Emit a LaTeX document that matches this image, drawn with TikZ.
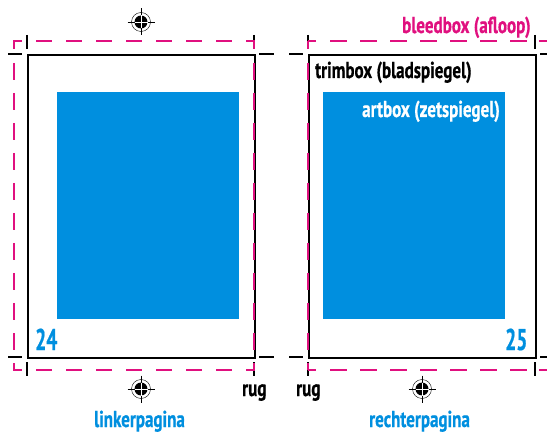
\documentclass[tikz,border=0pt]{standalone}
\usepackage{fontspec}
\setmainfont[FakeStretch=0.74,BoldFont={PT Sans Bold},BoldFeatures={FakeBold=0.6}]{PT Sans}
\definecolor{mag}{HTML}{E0107F}
\definecolor{blu}{HTML}{008FDF}
\tikzset{
  trim/.style={draw=black,line width=1.6pt},
  tick/.style={draw=black,line width=1.6pt},
  bleed/.style={draw=mag,line width=1.6pt},
  lbl/.style={anchor=base west,inner sep=0pt,font=\fontsize{23}{23}\selectfont\bfseries},
  numlbl/.style={lbl,text=blu,font=\fontsize{30}{30}\selectfont\bfseries},
  art/.style={fill=blu,draw=none},
  regthin/.style={draw=black,line width=0.4pt},
}
\newcommand{\regmark}[2]{%
  \fill[black] (#1,#2) circle[radius=6.5];
  \draw[regthin] (#1,#2) circle[radius=9.5];
  \draw[regthin] (#1-13.5,#2) -- (#1-6.5,#2) (#1+6.5,#2) -- (#1+13.5,#2) (#1,#2-13.5) -- (#1,#2-6.5) (#1,#2+6.5) -- (#1,#2+13.5);
  \draw[draw=white,line width=0.5pt] (#1-6.5,#2) -- (#1+6.5,#2) (#1,#2-6.5) -- (#1,#2+6.5);
}
\newcommand{\ticks}[2]{%
  \draw[tick] (#1,35) -- (#1,49) (#1,362) -- (#1,376) (#2,35) -- (#2,49) (#2,362) -- (#2,376);
  \draw[tick] (#1-19,54) -- (#1-5,54) (#1-19,357) -- (#1-5,357) (#2+5,54) -- (#2+20,54) (#2+5,357) -- (#2+20,357);
}
\newcommand{\vdashes}[1]{%
  \foreach \y in {63,93,...,333} {\draw[bleed] (#1,\y) -- (#1,\y+17);}
}
\begin{document}
\begin{tikzpicture}[x=1pt,y=-1pt]
\useasboundingbox (0,0) rectangle (547,433);
% left page
\node[art,minimum width=182pt,minimum height=227pt,inner sep=0pt,anchor=north west] (artL) at (57,92) {};
\node[trim,minimum width=227pt,minimum height=303pt,inner sep=0pt,anchor=north west] (trimL) at (27,54) {};
\ticks{27}{254}
\draw[bleed] (14,49) -- (14,41) -- (22,41) (14,363) -- (14,370) -- (22,370);
\vdashes{14}
\vdashes{254}
\foreach \x in {36,66,...,216} {\draw[bleed] (\x,41) -- (\x+16,41); \draw[bleed] (\x,370) -- (\x+16,370);}
\draw[bleed] (246,41) -- (254,41) -- (254,49) (246,370) -- (254,370) -- (254,363);
% right page
\node[art,minimum width=182pt,minimum height=227pt,inner sep=0pt,anchor=north west] (artR) at (323,92) {};
\node[trim,minimum width=227pt,minimum height=303pt,inner sep=0pt,anchor=north west] (trimR) at (308,54) {};
\ticks{308}{535}
\vdashes{308}
\draw[bleed] (308,41) -- (316,41) (308,41) -- (308,49) (308,370) -- (316,370) (308,370) -- (308,363);
\foreach \x in {330,360,...,510} {\draw[bleed] (\x,41) -- (\x+17,41); \draw[bleed] (\x,370) -- (\x+17,370);}
\draw[bleed] (539,41) -- (547,41) (539,370) -- (547,370);
% registration marks
\regmark{141}{22}
\regmark{141}{389}
\regmark{422}{389}
% labels
\node[lbl,text=mag] (bleedlbl) at (402,33) {bleedbox (afloop)};
\node[lbl,text=black] (trimlbl) at (315,78) {trimbox (bladspiegel)};
\node[lbl,text=white] (artlbl) at (362,117) {artbox (zetspiegel)};
\node[numlbl] (numL) at (35,350) {\scalebox{0.88}[1]{24}};
\node[numlbl] (numR) at (505,350) {\scalebox{0.88}[1]{25}};
\node[lbl,text=black] (rugL) at (242,396) {rug};
\node[lbl,text=black] (rugR) at (296,396) {rug};
\node[lbl,text=blu] (linker) at (94,427) {linkerpagina};
\node[lbl,text=blu] (rechter) at (369,427) {rechterpagina};
\end{tikzpicture}
\end{document}
